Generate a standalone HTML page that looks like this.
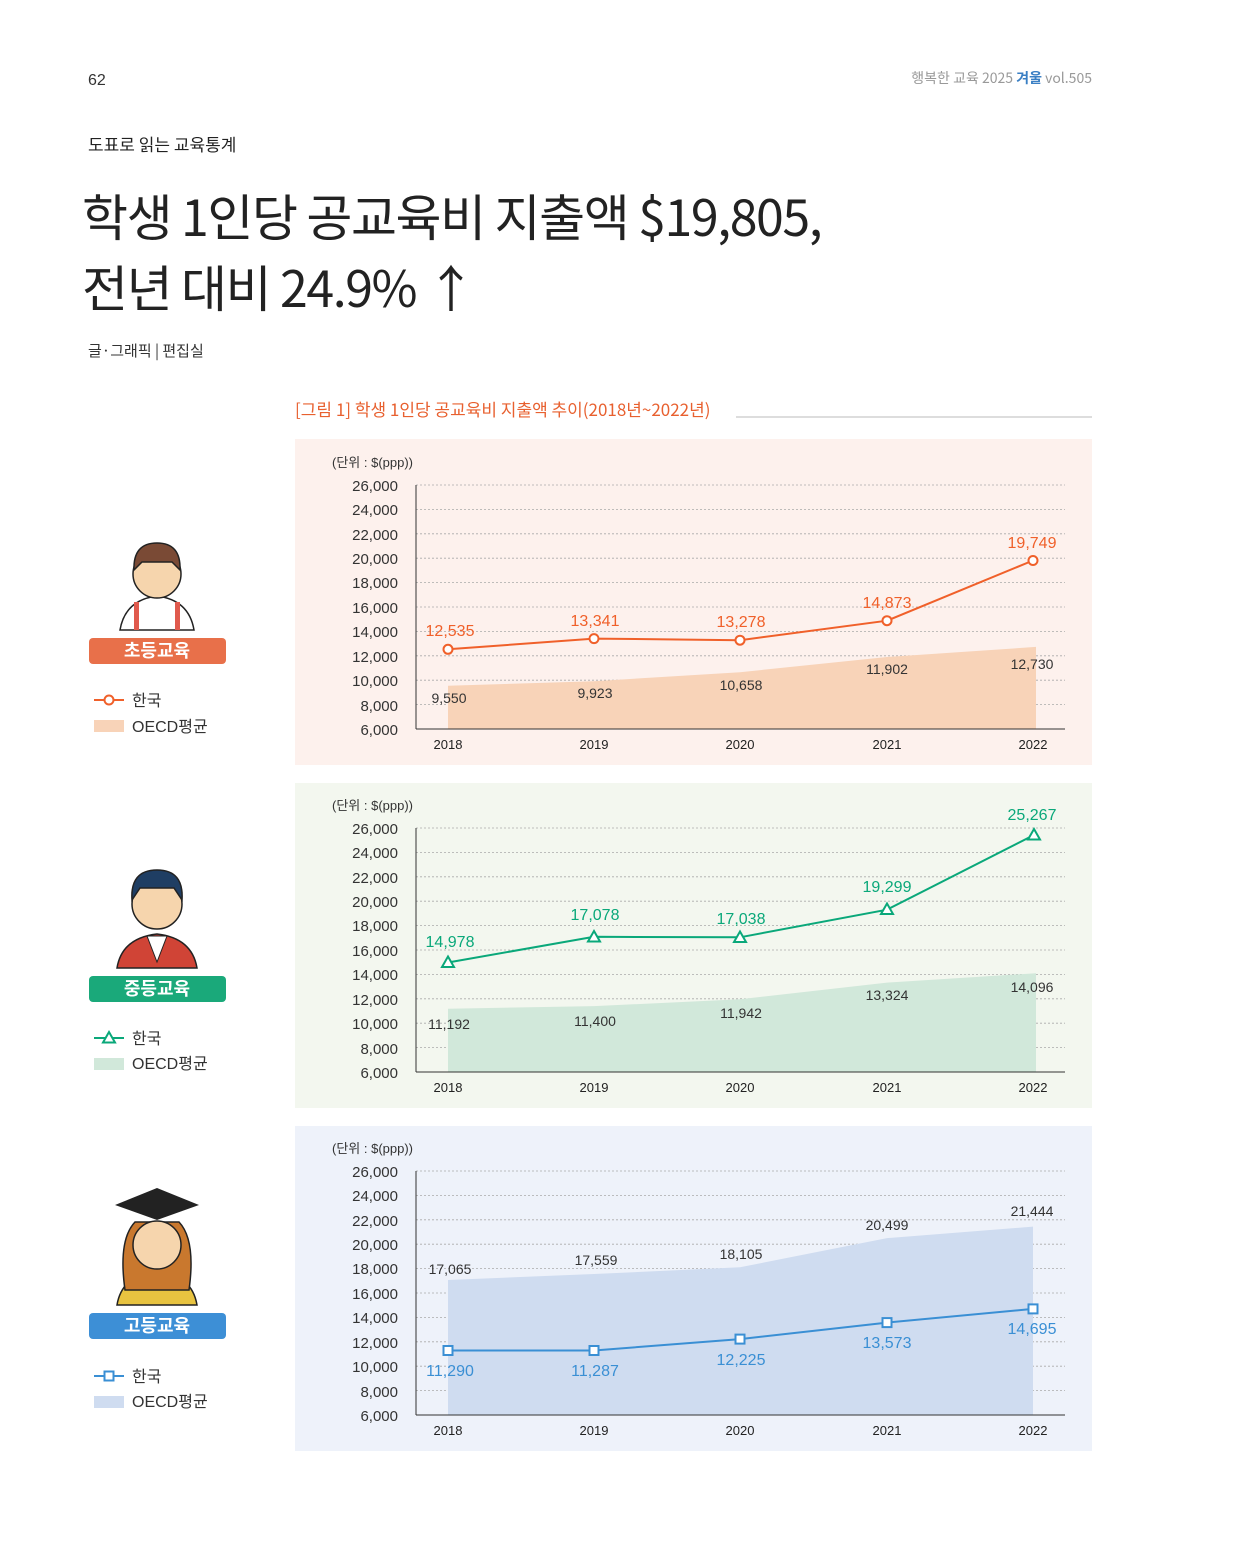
<!DOCTYPE html>
<html><head><meta charset="utf-8">
<style>
body{margin:0;background:#fff;}
svg{display:block;font-family:"Liberation Sans","Noto Sans CJK KR",sans-serif;}
</style></head><body>
<svg width="1240" height="1565" viewBox="0 0 1240 1565" xmlns="http://www.w3.org/2000/svg">
<text x="88" y="85" font-size="16" fill="#333">62</text>
<text x="1092" y="83" font-size="14" fill="#999" text-anchor="end" font-family="Noto Sans CJK KR, sans-serif">행복한 교육 2025 <tspan fill="#3a7fc4" font-weight="bold">겨울</tspan> vol.505</text>
<text x="88" y="151" font-size="17" fill="#222" font-family="Noto Sans CJK KR, sans-serif">도표로 읽는 교육통계</text>
<text x="82" y="236" font-size="50" fill="#222" font-family="Noto Sans CJK KR, sans-serif" letter-spacing="-1.4">학생 1인당 공교육비 지출액 $19,805,</text>
<text x="82" y="307" font-size="50" fill="#222" font-family="Noto Sans CJK KR, sans-serif" letter-spacing="-1.4">전년 대비 24.9% ↑</text>
<text x="88" y="356" font-size="15" fill="#333" font-family="Noto Sans CJK KR, sans-serif">글·그래픽 | 편집실</text>
<text x="295" y="416" font-size="17" fill="#e8602f" font-family="Noto Sans CJK KR, sans-serif">[그림  1] 학생 1인당 공교육비 지출액 추이(2018년~2022년)</text>
<line x1="736" y1="417" x2="1092" y2="417" stroke="#bbb" stroke-width="1"/>

<rect x="295" y="439" width="797" height="326" fill="#fdf1ed"/>
<rect x="295" y="783" width="797" height="325" fill="#f3f7ef"/>
<rect x="295" y="1126" width="797" height="325" fill="#eef2fa"/>

<g id="c1">
<text x="332" y="467" font-size="13" fill="#333">(단위 : $(ppp))</text>
<g font-size="15" fill="#333" text-anchor="end">
<text x="398" y="491">26,000</text><text x="398" y="515">24,000</text><text x="398" y="540">22,000</text><text x="398" y="564">20,000</text><text x="398" y="588">18,000</text><text x="398" y="613">16,000</text><text x="398" y="637">14,000</text><text x="398" y="662">12,000</text><text x="398" y="686">10,000</text><text x="398" y="711">8,000</text><text x="398" y="735">6,000</text>
</g>
<g stroke="#aaa" stroke-dasharray="2,2" stroke-width="0.8">
<line x1="416" x2="1065" y1="485" y2="485"/><line x1="416" x2="1065" y1="509.4" y2="509.4"/><line x1="416" x2="1065" y1="533.8" y2="533.8"/><line x1="416" x2="1065" y1="558.2" y2="558.2"/><line x1="416" x2="1065" y1="582.6" y2="582.6"/><line x1="416" x2="1065" y1="607" y2="607"/><line x1="416" x2="1065" y1="631.4" y2="631.4"/><line x1="416" x2="1065" y1="655.8" y2="655.8"/><line x1="416" x2="1065" y1="680.2" y2="680.2"/><line x1="416" x2="1065" y1="704.6" y2="704.6"/>
</g>
<polygon points="448,729 448,685.7 594,681.2 740,672.2 887,657 1036,646.9 1036,729" fill="#f8d3b8"/>
<line x1="416" y1="485" x2="416" y2="729" stroke="#333"/><line x1="416" y1="729" x2="1065" y2="729" stroke="#333"/>
<g font-size="13" fill="#222" text-anchor="middle"><text x="448" y="749">2018</text><text x="594" y="749">2019</text><text x="740" y="749">2020</text><text x="887" y="749">2021</text><text x="1033" y="749">2022</text></g>
<g font-size="14" fill="#333" text-anchor="middle"><text x="449" y="703">9,550</text><text x="595" y="698">9,923</text><text x="741" y="690">10,658</text><text x="887" y="674">11,902</text><text x="1032" y="669">12,730</text></g>
<polyline points="448,649.3 594,638.6 740,640.2 887,620.7 1033,560.5" fill="none" stroke="#f0602a" stroke-width="2"/>
<g fill="#fff" stroke="#f0602a" stroke-width="2"><circle cx="448" cy="649.3" r="4.5"/><circle cx="594" cy="638.6" r="4.5"/><circle cx="740" cy="640.2" r="4.5"/><circle cx="887" cy="620.7" r="4.5"/><circle cx="1033" cy="560.5" r="4.5"/></g>
<g font-size="16" fill="#f0602a" text-anchor="middle"><text x="450" y="636">12,535</text><text x="595" y="626">13,341</text><text x="741" y="627">13,278</text><text x="887" y="608">14,873</text><text x="1032" y="548">19,749</text></g>
</g>

<g id="c2">
<text x="332" y="810" font-size="13" fill="#333">(단위 : $(ppp))</text>
<g font-size="15" fill="#333" text-anchor="end">
<text x="398" y="834">26,000</text><text x="398" y="858">24,000</text><text x="398" y="883">22,000</text><text x="398" y="907">20,000</text><text x="398" y="931">18,000</text><text x="398" y="956">16,000</text><text x="398" y="980">14,000</text><text x="398" y="1005">12,000</text><text x="398" y="1029">10,000</text><text x="398" y="1054">8,000</text><text x="398" y="1078">6,000</text>
</g>
<g stroke="#aaa" stroke-dasharray="2,2" stroke-width="0.8">
<line x1="416" x2="1065" y1="828" y2="828"/><line x1="416" x2="1065" y1="852.4" y2="852.4"/><line x1="416" x2="1065" y1="876.8" y2="876.8"/><line x1="416" x2="1065" y1="901.2" y2="901.2"/><line x1="416" x2="1065" y1="925.6" y2="925.6"/><line x1="416" x2="1065" y1="950" y2="950"/><line x1="416" x2="1065" y1="974.4" y2="974.4"/><line x1="416" x2="1065" y1="998.8" y2="998.8"/><line x1="416" x2="1065" y1="1023.2" y2="1023.2"/><line x1="416" x2="1065" y1="1047.6" y2="1047.6"/>
</g>
<polygon points="448,1072 448,1008.7 594,1006.1 740,999.3 887,982.6 1036,973.2 1036,1072" fill="#d1e8da"/>
<line x1="416" y1="828" x2="416" y2="1072" stroke="#333"/><line x1="416" y1="1072" x2="1065" y2="1072" stroke="#333"/>
<g font-size="13" fill="#222" text-anchor="middle"><text x="448" y="1092">2018</text><text x="594" y="1092">2019</text><text x="740" y="1092">2020</text><text x="887" y="1092">2021</text><text x="1033" y="1092">2022</text></g>
<g font-size="14" fill="#333" text-anchor="middle"><text x="449" y="1029">11,192</text><text x="595" y="1026">11,400</text><text x="741" y="1018">11,942</text><text x="887" y="1000">13,324</text><text x="1032" y="992">14,096</text></g>
<polyline points="448,962.5 594,936.8 740,937.3 887,909.7 1034,835" fill="none" stroke="#0aa87a" stroke-width="2"/>
<g fill="#fff" stroke="#0aa87a" stroke-width="2"><polygon points="448,956.5 454,967 442,967"/><polygon points="594,931 600,941.5 588,941.5"/><polygon points="740,931.5 746,942 734,942"/><polygon points="887,903.5 893,914 881,914"/><polygon points="1034,829 1040,839.5 1028,839.5"/></g>
<g font-size="16" fill="#0aa87a" text-anchor="middle"><text x="450" y="947">14,978</text><text x="595" y="920">17,078</text><text x="741" y="924">17,038</text><text x="887" y="892">19,299</text><text x="1032" y="820">25,267</text></g>
</g>

<g id="c3">
<text x="332" y="1153" font-size="13" fill="#333">(단위 : $(ppp))</text>
<g font-size="15" fill="#333" text-anchor="end">
<text x="398" y="1177">26,000</text><text x="398" y="1201">24,000</text><text x="398" y="1226">22,000</text><text x="398" y="1250">20,000</text><text x="398" y="1274">18,000</text><text x="398" y="1299">16,000</text><text x="398" y="1323">14,000</text><text x="398" y="1348">12,000</text><text x="398" y="1372">10,000</text><text x="398" y="1397">8,000</text><text x="398" y="1421">6,000</text>
</g>
<g stroke="#aaa" stroke-dasharray="2,2" stroke-width="0.8">
<line x1="416" x2="1065" y1="1171" y2="1171"/><line x1="416" x2="1065" y1="1195.4" y2="1195.4"/><line x1="416" x2="1065" y1="1219.8" y2="1219.8"/><line x1="416" x2="1065" y1="1244.2" y2="1244.2"/><line x1="416" x2="1065" y1="1268.6" y2="1268.6"/><line x1="416" x2="1065" y1="1293" y2="1293"/><line x1="416" x2="1065" y1="1317.4" y2="1317.4"/><line x1="416" x2="1065" y1="1341.8" y2="1341.8"/><line x1="416" x2="1065" y1="1366.2" y2="1366.2"/><line x1="416" x2="1065" y1="1390.6" y2="1390.6"/>
</g>
<polygon points="448,1415 448,1280 594,1274 740,1267.3 887,1238.1 1033,1226.6 1033,1415" fill="#cfdcf0"/>
<line x1="416" y1="1171" x2="416" y2="1415" stroke="#333"/><line x1="416" y1="1415" x2="1065" y2="1415" stroke="#333"/>
<g font-size="13" fill="#222" text-anchor="middle"><text x="448" y="1435">2018</text><text x="594" y="1435">2019</text><text x="740" y="1435">2020</text><text x="887" y="1435">2021</text><text x="1033" y="1435">2022</text></g>
<g font-size="14" fill="#333" text-anchor="middle"><text x="450" y="1274">17,065</text><text x="596" y="1265">17,559</text><text x="741" y="1259">18,105</text><text x="887" y="1230">20,499</text><text x="1032" y="1216">21,444</text></g>
<polyline points="448,1350.5 594,1350.5 740,1339.1 887,1322.6 1033,1308.9" fill="none" stroke="#3a8fd4" stroke-width="2"/>
<g fill="#fff" stroke="#3a8fd4" stroke-width="2"><rect x="443.5" y="1346" width="9" height="9"/><rect x="589.5" y="1346" width="9" height="9"/><rect x="735.5" y="1334.6" width="9" height="9"/><rect x="882.5" y="1318.1" width="9" height="9"/><rect x="1028.5" y="1304.4" width="9" height="9"/></g>
<g font-size="16" fill="#3a8fd4" text-anchor="middle"><text x="450" y="1376">11,290</text><text x="595" y="1376">11,287</text><text x="741" y="1365">12,225</text><text x="887" y="1348">13,573</text><text x="1032" y="1334">14,695</text></g>
</g>

<g>
<path d="M120,630 Q125,600 157,596 Q189,600 194,630 Z" fill="#fff" stroke="#222" stroke-width="1.5"/>
<rect x="134" y="602" width="5" height="28" fill="#e05a4d"/><rect x="175" y="602" width="5" height="28" fill="#e05a4d"/>
<circle cx="157" cy="574" r="24" fill="#f6d5ad" stroke="#222" stroke-width="1.5"/>
<path d="M134,570 Q133,543 157,543 Q181,543 180,570 L172,562 L142,562 Z" fill="#7a4a35" stroke="#222" stroke-width="1.5"/>
<rect x="89" y="638" width="137" height="26" rx="4" fill="#e8704a"/>
<text x="157" y="657" font-size="18" font-weight="bold" fill="#fff" text-anchor="middle">초등교육</text>
</g>
<g>
<path d="M117,968 Q122,938 157,934 Q192,938 197,968 Z" fill="#d04436" stroke="#222" stroke-width="1.5"/>
<path d="M147,936 L157,962 L167,936 Z" fill="#fff" stroke="#222"/>
<circle cx="157" cy="904" r="25" fill="#f6d5ad" stroke="#222" stroke-width="1.5"/>
<path d="M132,900 Q130,870 157,870 Q184,870 182,900 L174,888 L140,888 Z" fill="#1f3e63" stroke="#222" stroke-width="1.5"/>
<rect x="89" y="976" width="137" height="26" rx="4" fill="#1aa97a"/>
<text x="157" y="995" font-size="18" font-weight="bold" fill="#fff" text-anchor="middle">중등교육</text>
</g>
<g>
<path d="M117,1305 Q122,1275 157,1271 Q192,1275 197,1305 Z" fill="#e8c340" stroke="#222" stroke-width="1.5"/>
<path d="M125,1290 Q118,1240 135,1222 L179,1222 Q196,1240 189,1290 Z" fill="#c9782e" stroke="#222" stroke-width="1.5"/>
<circle cx="157" cy="1245" r="24" fill="#f6d5ad" stroke="#222" stroke-width="1.5"/>
<polygon points="115,1205 157,1188 199,1205 157,1220" fill="#222"/>
<rect x="89" y="1313" width="137" height="26" rx="4" fill="#3d8fd6"/>
<text x="157" y="1332" font-size="18" font-weight="bold" fill="#fff" text-anchor="middle">고등교육</text>
</g>

<g font-size="16" fill="#333">
<line x1="94" y1="700" x2="124" y2="700" stroke="#f0602a" stroke-width="2"/><circle cx="109" cy="700" r="4.5" fill="#fff" stroke="#f0602a" stroke-width="2"/>
<text x="132" y="706">한국</text>
<rect x="94" y="720" width="30" height="12" fill="#f8d3b8"/><text x="132" y="732">OECD평균</text>

<line x1="94" y1="1038" x2="124" y2="1038" stroke="#0aa87a" stroke-width="2"/><polygon points="109,1032 115,1042.5 103,1042.5" fill="#fff" stroke="#0aa87a" stroke-width="2"/>
<text x="132" y="1044">한국</text>
<rect x="94" y="1058" width="30" height="12" fill="#d1e8da"/><text x="132" y="1069">OECD평균</text>

<line x1="94" y1="1376" x2="124" y2="1376" stroke="#3a8fd4" stroke-width="2"/><rect x="104.5" y="1371.5" width="9" height="9" fill="#fff" stroke="#3a8fd4" stroke-width="2"/>
<text x="132" y="1382">한국</text>
<rect x="94" y="1396" width="30" height="12" fill="#cfdcf0"/><text x="132" y="1407">OECD평균</text>
</g>
</svg>
</body></html>
